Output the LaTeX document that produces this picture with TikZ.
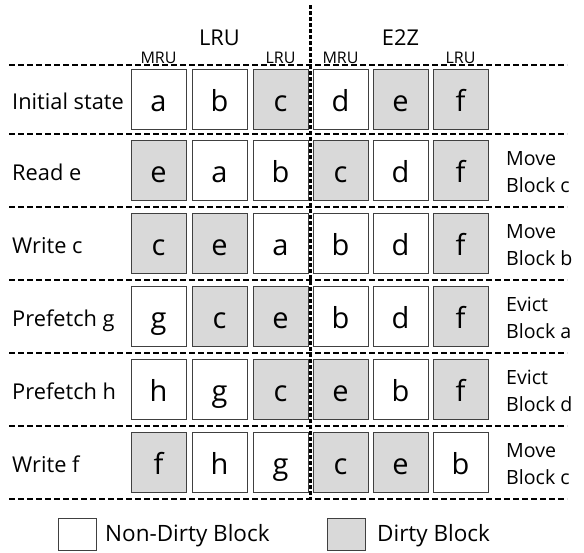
\documentclass[tikz,border=0pt]{standalone}
\usepackage{fontspec}
\setmainfont{Open Sans}
\definecolor{dirtyfill}{HTML}{D9D9D9}
\definecolor{edgegray}{HTML}{404040}
\tikzset{
  blk/.style={draw=edgegray, line width=1pt, minimum width=55pt, minimum height=60pt,
              inner sep=0pt, text height=24pt, text depth=0pt,
              font=\fontsize{29}{32}\selectfont},
  clean/.style={blk, fill=white},
  dirty/.style={blk, fill=dirtyfill},
  keybox/.style={draw=edgegray, line width=1pt, minimum width=38pt, minimum height=32pt, inner sep=0pt},
  label/.style={font=\fontsize{21.8}{25}\selectfont, inner sep=0pt},
  keytext/.style={font=\fontsize{22.5}{25}\selectfont, inner sep=0pt},
  action/.style={font=\fontsize{19.6}{27}\selectfont, inner sep=0pt, align=left},
  tag/.style={font=\fontsize{16}{17}\selectfont, inner sep=0pt, anchor=base},
  rowsep/.style={line width=1.5pt, dash pattern=on 6pt off 3pt},
  cachesep/.style={line width=2.2pt, dash pattern=on 4pt off 2pt},
}
\begin{document}
\begin{tikzpicture}[x=1pt, y=-1pt]
\useasboundingbox (0,0) rectangle (584,552);

% column centres of the two caches
\coordinate (col1) at (158.5,0);
\coordinate (col2) at (219.5,0);
\coordinate (col3) at (280.5,0);
\coordinate (col4) at (340.5,0);
\coordinate (col5) at (400.5,0);
\coordinate (col6) at (460.5,0);

% row centres
\coordinate (row1) at (0,99.5);
\coordinate (row2) at (0,170.5);
\coordinate (row3) at (0,243.5);
\coordinate (row4) at (0,316.5);
\coordinate (row5) at (0,389.5);
\coordinate (row6) at (0,462.5);

% horizontal separators
\foreach \k/\yy in {0/65,1/134,2/207,3/280,4/353,5/426,6/499} {
  \coordinate (sl\k) at (9,\yy);
  \coordinate (sr\k) at (567,\yy);
  \draw[rowsep] (sl\k) -- (sr\k);
}

% cache contents
\foreach \i/\spec in {
  1/{a/clean,b/clean,c/dirty,d/clean,e/dirty,f/dirty},
  2/{e/dirty,a/clean,b/clean,c/dirty,d/clean,f/dirty},
  3/{c/dirty,e/dirty,a/clean,b/clean,d/clean,f/dirty},
  4/{g/clean,c/dirty,e/dirty,b/clean,d/clean,f/dirty},
  5/{h/clean,g/clean,c/dirty,e/dirty,b/clean,f/dirty},
  6/{f/dirty,h/clean,g/clean,c/dirty,e/dirty,b/clean}} {
  \foreach \t/\s [count=\j] in \spec {
    \node[\s] (b\i-\j) at (col\j |- row\i) {\t};
  }
}

% boundary between the LRU and E2Z caches
\coordinate (vtop) at (310.5,5);
\coordinate (vbot) at (310.5,500);
\draw[cachesep] (vtop) -- (vbot);

% headings
\node[label, anchor=base] (hlru) at (219.5,45) {LRU};
\node[label, anchor=base] (he2z) at (400.5,45) {E2Z};
\node[tag] (t1) at (158.5,63) {MRU};
\node[tag] (t2) at (280.5,63) {LRU};
\node[tag] (t3) at (340.5,63) {MRU};
\node[tag] (t4) at (460.5,63) {LRU};

% operations
\node[label, anchor=base west] (op1) at (12,109.5) {Initial state};
\node[label, anchor=base west] (op2) at (12,180) {Read e};
\node[label, anchor=base west] (op3) at (12,253) {Write c};
\node[label, anchor=base west] (op4) at (12,326) {Prefetch g};
\node[label, anchor=base west] (op5) at (12,399) {Prefetch h};
\node[label, anchor=base west] (op6) at (12,472) {Write f};

% resulting actions
\node[action, anchor=west] (ac2) at (506,172) {Move\\Block c};
\node[action, anchor=west] (ac3) at (506,245) {Move\\Block b};
\node[action, anchor=west] (ac4) at (506,318) {Evict\\Block a};
\node[action, anchor=west] (ac5) at (506,391) {Evict\\Block d};
\node[action, anchor=west] (ac6) at (506,464) {Move\\Block c};

% legend
\node[keybox, fill=white] (k1) at (77,534) {};
\node[keytext, anchor=base west] (k1t) at (105,541) {Non-Dirty Block};
\node[keybox, fill=dirtyfill] (k2) at (346,534) {};
\node[keytext, anchor=base west] (k2t) at (377,541) {Dirty Block};
\end{tikzpicture}
\end{document}
